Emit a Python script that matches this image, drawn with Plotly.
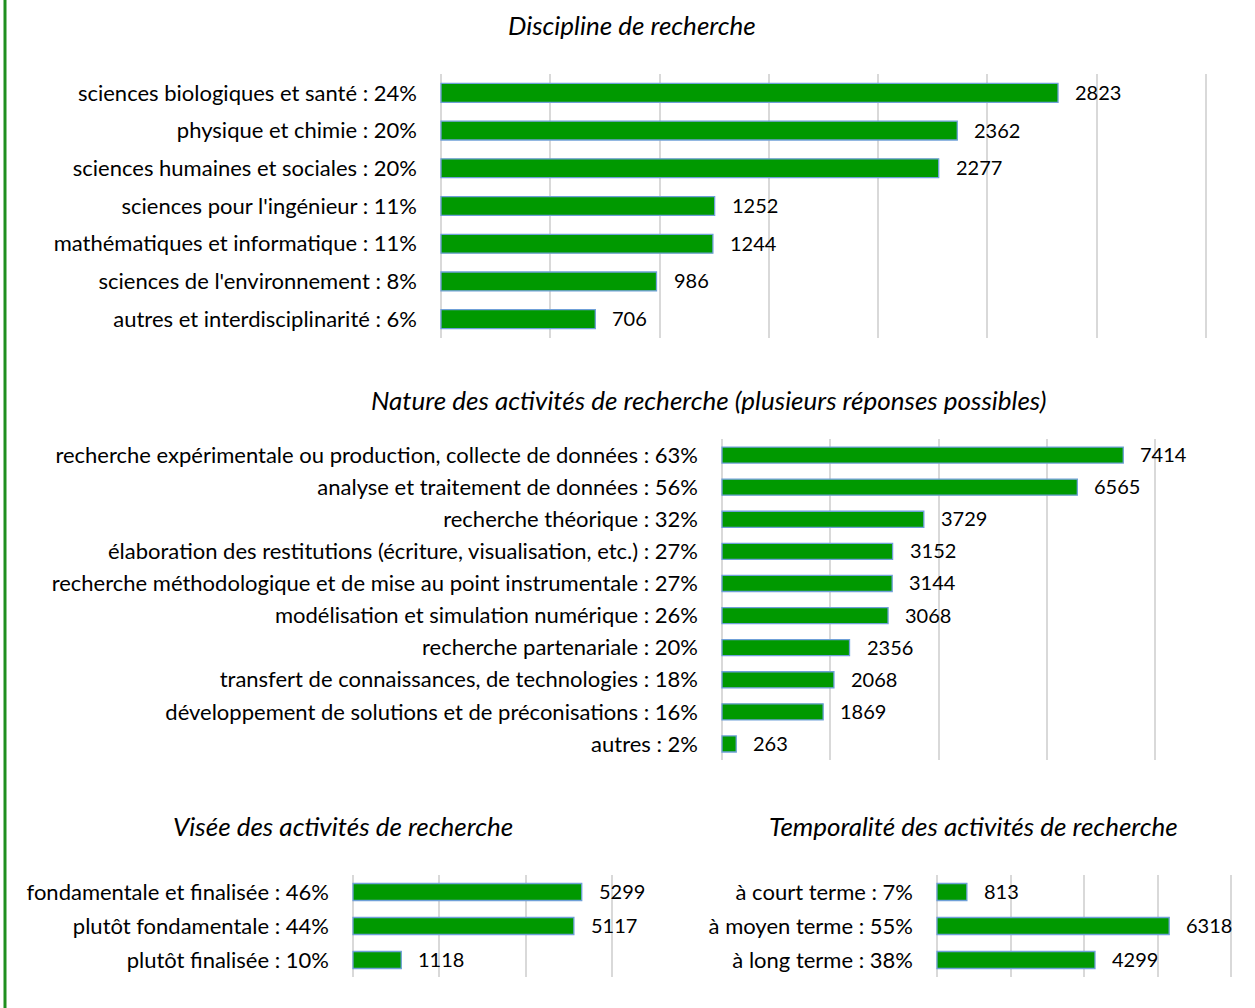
import plotly.graph_objects as go

W, H = 1255, 1008

# ---------------- data ----------------
disc_labels = [
    "sciences biologiques et santé : 24%",
    "physique et chimie : 20%",
    "sciences humaines et sociales : 20%",
    "sciences pour l'ingénieur : 11%",
    "mathématiques et informatique : 11%",
    "sciences de l'environnement : 8%",
    "autres et interdisciplinarité : 6%",
]
disc_values = [2823, 2362, 2277, 1252, 1244, 986, 706]

nature_labels = [
    "recherche expérimentale ou production, collecte de données : 63%",
    "analyse et traitement de données : 56%",
    "recherche théorique : 32%",
    "élaboration des restitutions (écriture, visualisation, etc.) : 27%",
    "recherche méthodologique et de mise au point instrumentale : 27%",
    "modélisation et simulation numérique : 26%",
    "recherche partenariale : 20%",
    "transfert de connaissances, de technologies : 18%",
    "développement de solutions et de préconisations : 16%",
    "autres : 2%",
]
nature_values = [7414, 6565, 3729, 3152, 3144, 3068, 2356, 2068, 1869, 263]

visee_labels = [
    "fondamentale et finalisée : 46%",
    "plutôt fondamentale : 44%",
    "plutôt finalisée : 10%",
]
visee_values = [5299, 5117, 1118]

temp_labels = [
    "à court terme : 7%",
    "à moyen terme : 55%",
    "à long terme : 38%",
]
temp_values = [813, 6318, 4299]

titles = [
    "Discipline de recherche",
    "Nature des activités de recherche (plusieurs réponses possibles)",
    "Visée des activités de recherche",
    "Temporalité des activités de recherche",
]

# ---------------- styling ----------------
FONT = "Lato"
FS = 22
VFS = 20
TFS = 26
BAR_FILL = "#009900"
BAR_LINE = "#6fa0d8"
GRID = "#d9d9d9"

def px_y(top, bottom):
    return [(H - bottom) / H, (H - top) / H]

panels = [
    # labels, values, x-domain px, y-domain px, range max, dtick, title center x, title y
    (disc_labels, disc_values, (441, 1206), (74, 338), 3500, 500, 632, 25),
    (nature_labels, nature_values, (722, 1155), (439, 760), 8000, 2000, 708, 400),
    (visee_labels, visee_values, (353, 612), (875, 977), 6000, 2000, 343, 826),
    (temp_labels, temp_values, (937, 1231), (875, 977), 8000, 2000, 974, 826),
]

fig = go.Figure()
annotations = []
layout = {}
EXTRA_PX = 5  # widen domain slightly so the last gridline is drawn

for i, (labels, values, xd, yd, xmax, dt, tx, ty) in enumerate(panels, start=1):
    xa = "x" if i == 1 else f"x{i}"
    ya = "y" if i == 1 else f"y{i}"
    fig.add_trace(go.Bar(
        x=values, y=labels, orientation="h",
        xaxis=xa, yaxis=ya,
        marker=dict(color=BAR_FILL, line=dict(color=BAR_LINE, width=1.3)),
        width=0.5, showlegend=False, hoverinfo="x+y",
    ))
    xkey = "xaxis" if i == 1 else f"xaxis{i}"
    ykey = "yaxis" if i == 1 else f"yaxis{i}"
    upp = xmax / (xd[1] - xd[0])
    layout[xkey] = dict(
        domain=[(xd[0] - 1) / W, (xd[1] + EXTRA_PX) / W], anchor=ya,
        range=[-upp, xmax + EXTRA_PX * upp], dtick=dt, tick0=0,
        showgrid=True, gridcolor=GRID, gridwidth=1.5,
        zeroline=True, zerolinecolor=GRID, zerolinewidth=1.5,
        showticklabels=False, showline=False, ticks="", fixedrange=True,
    )
    layout[ykey] = dict(
        domain=px_y(*yd), anchor=xa, autorange="reversed", type="category",
        showgrid=False, zeroline=False, showline=False, ticks="",
        ticklabelstandoff=22,
        tickfont=dict(family=FONT, size=FS, color="#000000"), fixedrange=True,
    )
    for lab, v in zip(labels, values):
        annotations.append(dict(
            x=v, y=lab, xref=xa, yref=ya, text=str(v), showarrow=False,
            xanchor="left", xshift=15, yshift=1,
            font=dict(family=FONT, size=VFS, color="#000000"),
        ))
    annotations.append(dict(
        x=tx / W, y=(H - ty) / H, xref="paper", yref="paper",
        text=f"<i>{titles[i-1]}</i>", showarrow=False,
        xanchor="center", yanchor="middle",
        font=dict(family=FONT, size=TFS, color="#000000"),
    ))

fig.update_layout(
    width=W, height=H,
    margin=dict(l=0, r=0, t=0, b=0),
    paper_bgcolor="white", plot_bgcolor="white",
    annotations=annotations,
    shapes=[dict(type="line", xref="paper", yref="paper",
                 x0=5 / W, x1=5 / W, y0=0, y1=1,
                 line=dict(color="#1f8f1f", width=3))],
    **layout,
)

fig.write_html(
    "out.html",
    config={"displayModeBar": False},
    post_script="document.body.style.margin='0';document.body.style.overflow='hidden';",
)
